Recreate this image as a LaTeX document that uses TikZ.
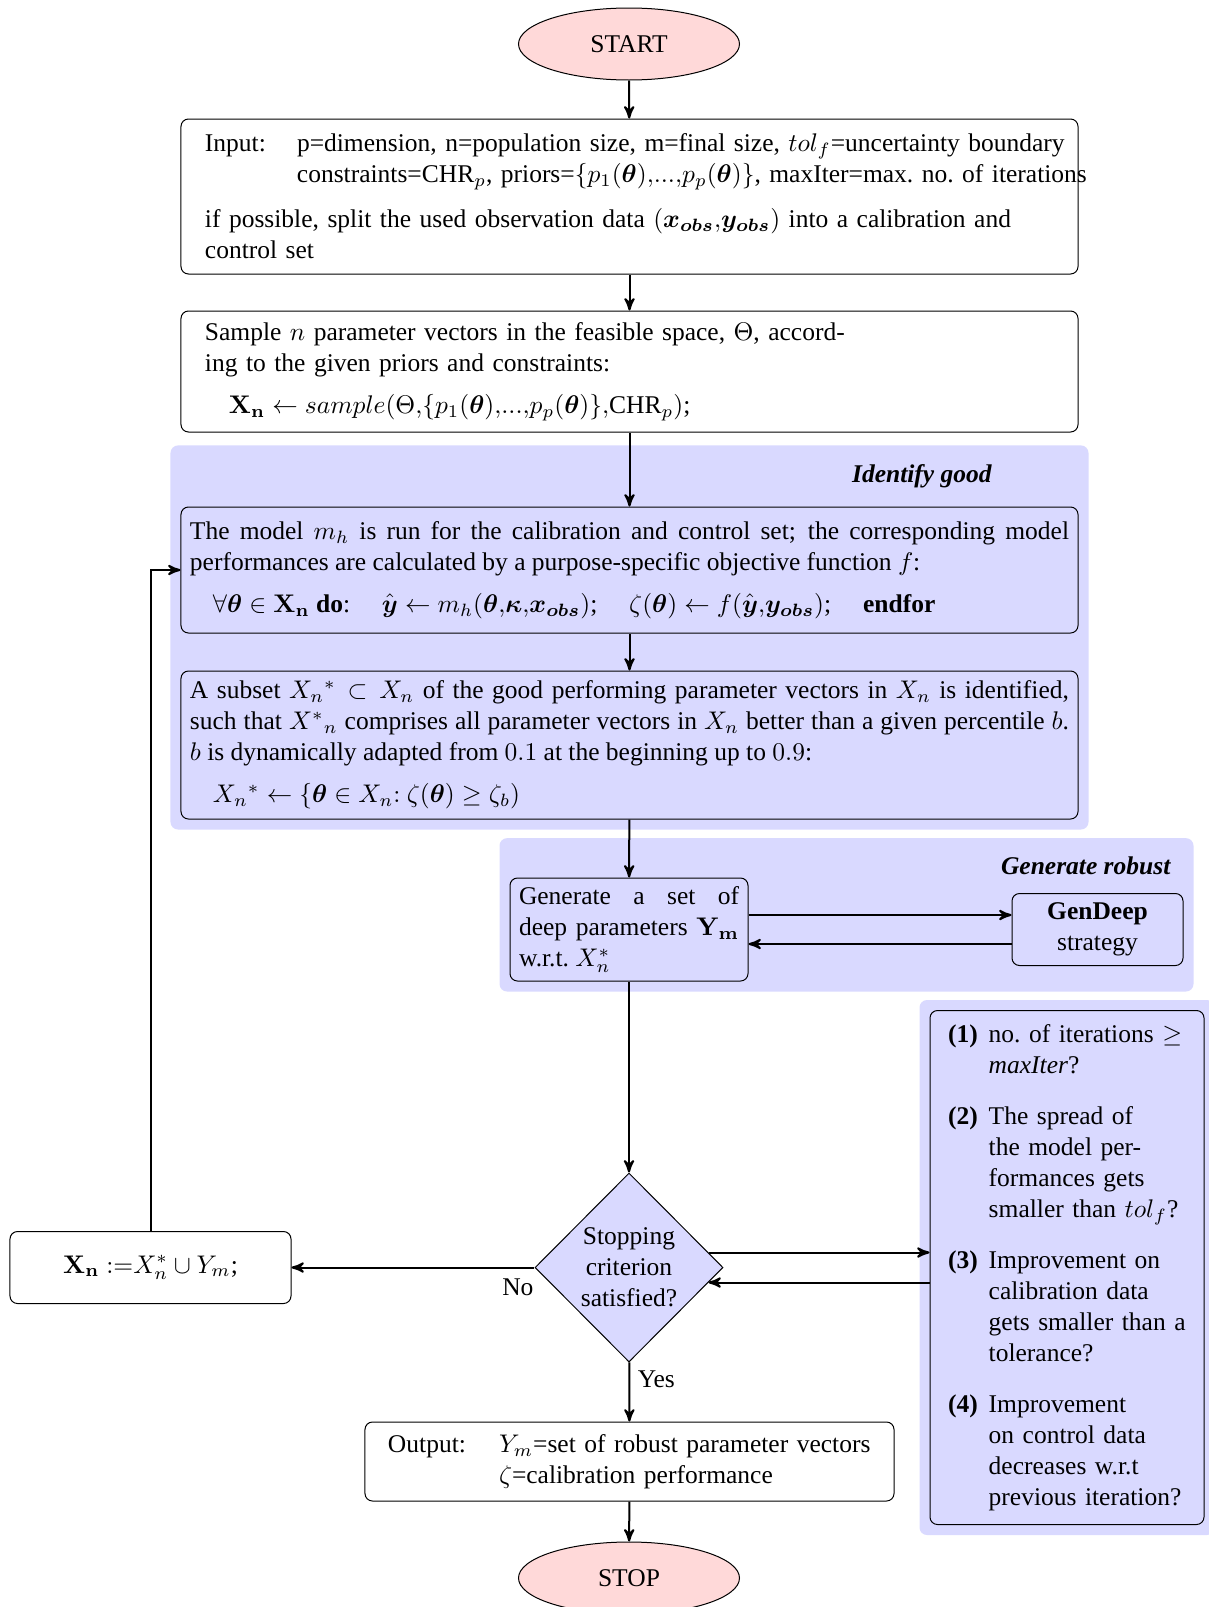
\RequirePackage{fix-cm}
\documentclass[tikz,border=0pt]{standalone}
\usepackage{amsmath}
\usepackage{amssymb}
\usepackage[no-math]{fontspec}
\setmainfont{Liberation Serif}
\usepackage{tikz}
\usetikzlibrary{arrows,shapes.geometric,backgrounds,fit}
\tikzset{
	x=0.4pt,
	y=-0.4pt,
	>=stealth',
	every node/.style={font=\fontsize{10.2}{12.4}\selectfont},
	pre/.style={<-, thick},
	post/.style={->, thick},
	box/.style={
		draw=black,
		rounded corners=3pt,
		inner ysep=2pt
	},
	terminal/.style={
		draw=black,
		ellipse,
		fill=red!15,
		minimum width=88.4pt,
		minimum height=28.8pt
	},
	choice/.style={
		draw=black,
		diamond,
		fill=blue!15,
		inner sep=0pt,
		minimum width=75.2pt,
		minimum height=75.6pt,
		align=center
	},
	group/.style={
		fill=blue!15,
		rounded corners=3pt,
		inner sep=4pt
	}
}

\begin{document}
\begin{tikzpicture}
	\useasboundingbox (0,0) rectangle (1208,1607);

	\node [terminal] (start) at (629,44) {START};
	\node [box, text width=339.6pt, inner xsep=9.6pt, minimum height=62pt, align=left] (input) at (629.5,196.5) {%
		\makebox[36.8pt][l]{Input:}\mbox{p=dimension, n=population size, m=final size, $tol_f$=uncertainty boundary}\\
		\hspace*{36.8pt}\mbox{constraints=CHR$_p$, priors=$\{p_1(\boldsymbol{\theta}){,}...{,}p_p(\boldsymbol{\theta})\}$, maxIter=max.\ no.\ of iterations}\\[5.6pt]
		if possible, split the used observation data $(\boldsymbol{x_{obs}}{,}\boldsymbol{y_{obs}})$ into a calibration and\\
		control set}
	edge [pre] (start);
	\node [box, text width=339.6pt, inner xsep=9.6pt, minimum height=48.4pt, align=left] (sample) at (629.5,371.5) {%
		Sample $n$ parameter vectors in the feasible space, $\Theta$, accord-\\
		ing to the given priors and constraints:\\[4.4pt]
		\hspace*{9.6pt}$\mathbf{X_n}\leftarrow sample(\Theta{,}\{p_1(\boldsymbol{\theta}){,}...{,}p_p(\boldsymbol{\theta})\}{,}\text{CHR}_p)$;}
	edge [pre] (input);

	% identify good
	\node (goodlbl) at (922,476) {\textbf{\textit{Identify good}}};
	\node [box, fill=blue!15, text width=351.6pt, inner xsep=3.6pt, minimum height=50.4pt, align=justify] (model) at (629.5,570) {%
		The model $m_h$ is run for the calibration and control set; the corresponding model\linebreak performances are calculated by a purpose-specific objective function $f$:\\[4.4pt]
		\hspace*{9.2pt}$\forall\boldsymbol{\theta}\in\mathbf{X_n}$ \textbf{do}:\quad\ $\hat{\boldsymbol{y}}\leftarrow m_h(\boldsymbol{\theta}{,}\boldsymbol{\kappa}{,}\boldsymbol{x_{obs}})$;\quad\ $\zeta(\boldsymbol{\theta})\leftarrow f(\hat{\boldsymbol{y}}{,}\boldsymbol{y_{obs}})$;\quad\ \textbf{endfor}}
	edge [pre] (sample);
	\node [box, fill=blue!15, text width=351.6pt, inner xsep=3.6pt, minimum height=59.2pt, align=justify] (subset) at (629.5,745) {%
		A subset $X_n{}^*\subset X_n$ of the good performing parameter vectors in $X_n$ is identified,\linebreak such that $X^*{}_n$ comprises all parameter vectors in $X_n$ better than a given percentile $b$.\linebreak $b$ is dynamically adapted from $0.1$ at the beginning up to $0.9$:\\[4.4pt]
		\hspace*{9.2pt}$X_n{}^*\leftarrow\{\boldsymbol{\theta}\in X_n{:}\ \zeta(\boldsymbol{\theta})\geq\zeta_b)$}
	edge [pre] (model);

	% generate robust
	\node (robustlbl) at (1086,866) {\textbf{\textit{Generate robust}}};
	\node [box, fill=blue!15, text width=88pt, inner xsep=3.6pt, minimum height=41.2pt, align=justify] (gen) at (629,929.5) {Generate a set of\linebreak deep parameters $\mathbf{Y_m}$\linebreak w.r.t.\ $X_n^*$}
	edge [pre] (subset);
	\node [box, fill=blue!15, minimum width=68.4pt, minimum height=28.8pt, align=center] (deep) at (1097.5,929.5) {\textbf{GenDeep}\\strategy};
	\draw [post] ([yshift=5.8pt]gen.east) -- ([yshift=5.8pt]deep.west);
	\draw [post] ([yshift=-5.8pt]deep.west) -- ([yshift=-5.8pt]gen.east);

	% stopping
	\node [choice] (dia) at (629,1267.5) {Stopping\\criterion\\satisfied?}
	edge [pre] (gen);
	\node [box, fill=blue!15, text width=95.2pt, inner xsep=7.2pt, minimum height=205.6pt] (crit) at (1067,1267.5) {%
		\begin{tabular}{@{}l@{\hspace{4.4pt}}p{78.8pt}@{}}
			\textbf{(1)} & no.\ of iterations $\geq$\newline \textit{maxIter}?\\[8pt]
			\textbf{(2)} & The spread of\newline the model per-\newline formances gets\newline smaller than $tol_f$?\\[8pt]
			\textbf{(3)} & Improvement on\newline calibration data\newline gets smaller than a\newline tolerance?\\[8pt]
			\textbf{(4)} & Improvement\newline on control data\newline decreases w.r.t\newline previous iteration?
		\end{tabular}};
	\draw [post] ([xshift=-6pt,yshift=6pt]dia.east) -- ([yshift=6pt]crit.west);
	\draw [post] ([yshift=-6pt]crit.west) -- ([xshift=-6pt,yshift=-6pt]dia.east);

	\node [box, fill=white, minimum width=112.4pt, minimum height=28.8pt] (xn) at (150.5,1267.5) {$\mathbf{X_n}\;{:=}X_n^*\cup Y_m$;};
	\draw [post] (dia) -- node [pos=0, anchor=north east, inner sep=0pt, yshift=-4pt] {No} (xn);
	\draw [post] (xn) |- (model);

	\node [box, text width=193.2pt, inner xsep=9.2pt, minimum height=31.6pt, align=left] (output) at (629.5,1461.5) {%
		\makebox[44.4pt][l]{Output:}\mbox{$Y_m$=set of robust parameter vectors}\\
		\hspace*{44.4pt}$\zeta$=calibration performance};
	\draw [post] (dia) -- node [pos=0, below right, inner sep=3pt] {Yes} (output);
	\node [terminal] (stop) at (629,1578) {STOP}
	edge [pre] (output);

	\begin{pgfonlayer}{background}
		\node [group, fit=(goodlbl)(model)(subset)] (good) {};
		\node [group, fit=(robustlbl)(gen)(deep)] (robust) {};
		\node [group, fit=(crit)] (critbg) {};
	\end{pgfonlayer}
\end{tikzpicture}
\end{document}
